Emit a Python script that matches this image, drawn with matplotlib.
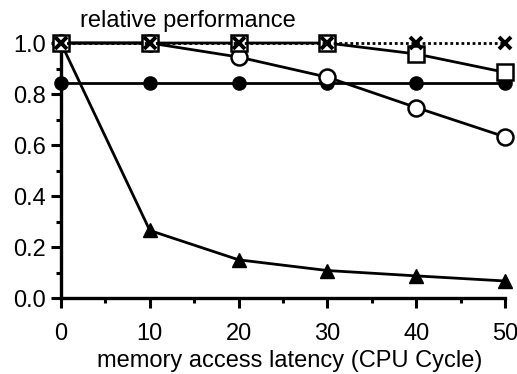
import matplotlib
matplotlib.use("Agg")
import matplotlib.pyplot as plt
from matplotlib.ticker import MultipleLocator

plt.rcParams["font.family"] = ["Liberation Sans", "DejaVu Sans"]

latency = [0, 10, 20, 30, 40, 50]
perf_cross = [1.0, 1.0, 1.0, 1.0, 1.0, 1.0]
perf_square = [1.0, 1.0, 1.0, 1.0, 0.957, 0.885]
perf_open = [1.0, 1.0, 0.945, 0.866, 0.747, 0.632]
perf_filled = [0.845, 0.845, 0.845, 0.845, 0.845, 0.845]
perf_tri = [1.0, 0.265, 0.15, 0.108, 0.087, 0.067]

fig = plt.figure(figsize=(5.17, 3.74), dpi=100)
ax = fig.add_axes([0.118, 0.203, 0.859, 0.682])

lw = 2.0
ax.plot(latency, perf_tri, "-^", color="black", lw=lw, ms=10, mfc="black",
        clip_on=False, zorder=3)
ax.plot(latency, perf_filled, "-o", color="black", lw=lw, ms=9.5, mfc="black",
        clip_on=False, zorder=4)
ax.plot(latency, perf_open, "-o", color="black", lw=lw, ms=11.5, mfc="white",
        mew=1.8, clip_on=False, zorder=5)
ax.plot(latency, perf_square, "-s", color="black", lw=lw, ms=12, mfc="white",
        mew=1.8, clip_on=False, zorder=6)
ax.plot(latency, perf_cross, "x", color="black", ms=8.5, mew=2.8,
        clip_on=False, zorder=7)
ax.plot(latency, perf_cross, color="black", lw=2.0, ls=(0, (1, 1)),
        clip_on=False, zorder=7)

ax.set_xlim(0, 50)
ax.set_ylim(0, 1.0)
ax.xaxis.set_major_locator(MultipleLocator(10))
ax.xaxis.set_minor_locator(MultipleLocator(5))
ax.yaxis.set_major_locator(MultipleLocator(0.2))
ax.yaxis.set_minor_locator(MultipleLocator(0.1))
ax.yaxis.set_major_formatter(matplotlib.ticker.FormatStrFormatter("%.1f"))

for side in ["top", "right"]:
    ax.spines[side].set_visible(False)
for side in ["left", "bottom"]:
    ax.spines[side].set_linewidth(2.4)
ax.tick_params(which="major", direction="out", length=7, width=2.2, labelsize=17, pad=4)
ax.tick_params(which="minor", direction="out", length=3.8, width=2.2)
ax.tick_params(axis="x", which="major", pad=11)

fig.text(80 / 517, 1 - 27 / 374, "relative performance", fontsize=17,
         ha="left", va="baseline")
fig.text(290 / 517, 1 - 367 / 374, "memory access latency (CPU Cycle)",
         fontsize=17, ha="center", va="baseline")

fig.savefig("out.png", dpi=100)
